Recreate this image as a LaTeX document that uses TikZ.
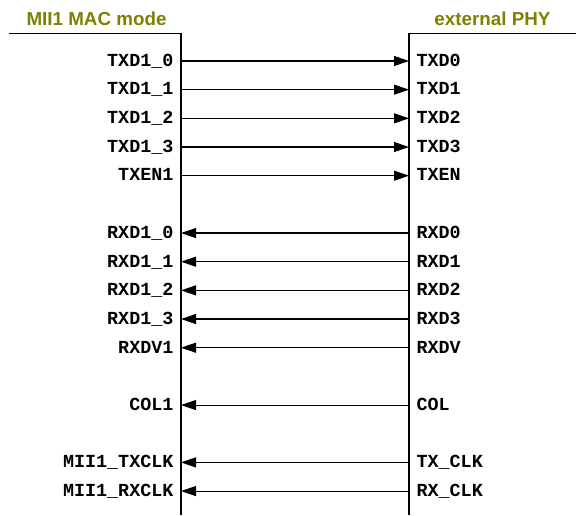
\documentclass[tikz,border=0pt]{standalone}
\usepackage{fontspec}
\setmainfont{Liberation Sans}
\setsansfont{Liberation Sans}
\setmonofont{Liberation Mono}
\usetikzlibrary{arrows.meta,positioning}
\definecolor{olivetitle}{RGB}{128,128,0}

\begin{document}
\begin{tikzpicture}[x=0.5pt, y=-0.5pt, line width=0.55pt,
    sig/.style={font=\ttfamily\bfseries\fontsize{9.2}{10}\selectfont, inner sep=3.5pt, text height=5.3pt, text depth=0pt},
    title/.style={font=\sffamily\bfseries\fontsize{9.4}{10}\selectfont, text=olivetitle, inner sep=0pt},
    wire/.style={-{Triangle[length=7.5pt,width=5pt]}}]
        \useasboundingbox (0,0) rectangle (576,515);
        % the two sides
        \draw (9,33.5) -- (181,33.5) -- (181,515);
        \draw (409,515) -- (409,33.5) -- (576,33.5);
        \node[title, anchor=base west] (mac) at (26,25) {MII1 MAC mode};
        \node[title, anchor=base east] (phy) at (551,25) {external PHY};
        % transmit side, MAC to PHY
        \foreach \k/\a/\b in {0/TXD1\_0/TXD0,1/TXD1\_1/TXD1,2/TXD1\_2/TXD2,3/TXD1\_3/TXD3,4/TXEN1/TXEN}{
            \node[sig, anchor=east] (mac\k) at (181,61+28.67*\k) {\a};
            \node[sig, anchor=west] (phy\k) at (409,61+28.67*\k) {\b};
            \draw[wire] (mac\k.east) -- (phy\k.west);}
        % receive side, PHY to MAC
        \foreach \k/\a/\b in {6/RXD1\_0/RXD0,7/RXD1\_1/RXD1,8/RXD1\_2/RXD2,9/RXD1\_3/RXD3,10/RXDV1/RXDV,12/COL1/COL,14/MII1\_TXCLK/TX\_CLK,15/MII1\_RXCLK/RX\_CLK}{
            \node[sig, anchor=east] (mac\k) at (181,61+28.67*\k) {\a};
            \node[sig, anchor=west] (phy\k) at (409,61+28.67*\k) {\b};
            \draw[wire] (phy\k.west) -- (mac\k.east);}
\end{tikzpicture}
\end{document}
